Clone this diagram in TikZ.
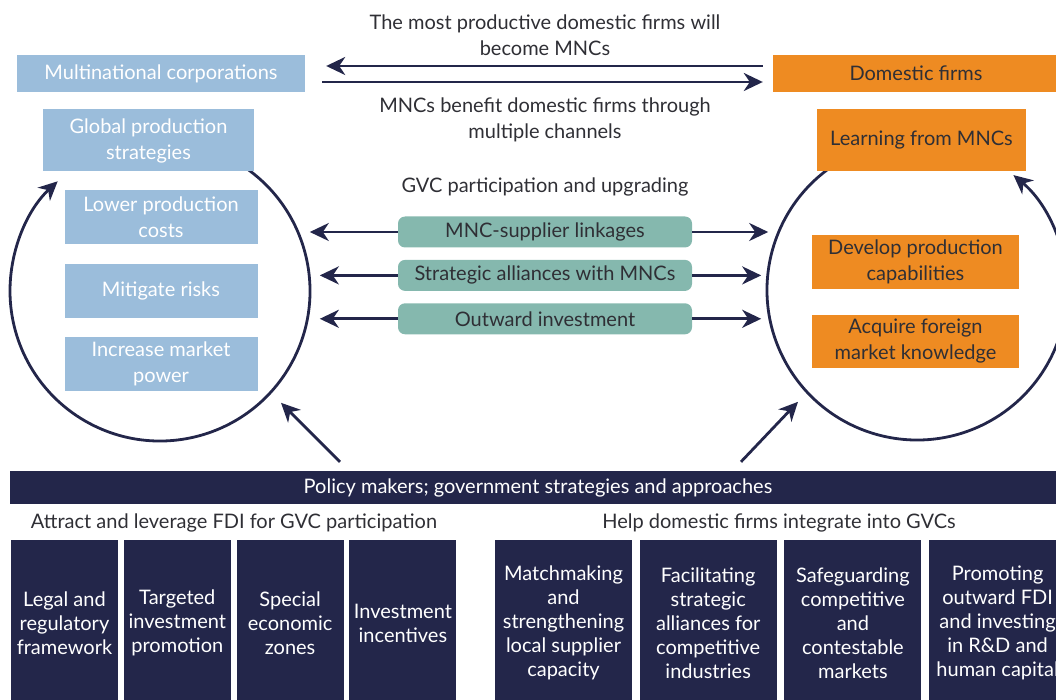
\documentclass[tikz,border=0pt]{standalone}
\usepackage{fontspec}
\setmainfont{Lato}
\usetikzlibrary{arrows.meta,positioning}
\definecolor{mncblue}{HTML}{9BBDDB}
\definecolor{domorange}{HTML}{EE8B22}
\definecolor{chanteal}{HTML}{85B8AE}
\definecolor{polnavy}{HTML}{23264A}
\definecolor{txtgray}{HTML}{2F2F35}
\tikzset{
  basic/.style   = {inner sep=0pt, align=center, font=\fontsize{20}{26}\selectfont},
  mnc/.style     = {basic, fill=mncblue, text=white},
  dom/.style     = {basic, fill=domorange, text=txtgray},
  channel/.style = {basic, fill=chanteal, text=txtgray, rounded corners=7pt,
                    minimum width=294pt, minimum height=31pt},
  policy/.style  = {basic, fill=polnavy, text=white},
  caption/.style = {basic, text=txtgray},
  arr/.style     = {-{Stealth[length=19pt,width=18pt,inset=6pt]}, line width=2.8pt, draw=polnavy}
}

\begin{document}
\begin{tikzpicture}[x=1pt, y=-1pt,
  side/.style={minimum width=193pt, minimum height=54pt},
  skill/.style={minimum width=207pt, minimum height=53pt},
  measure/.style={policy, minimum height=166pt, font=\fontsize{20}{24}\selectfont}]
\clip (0,0) rectangle (1056,700);

% the two cycles, drawn first so that the boxes sit on top
\coordinate (lc) at (160,291);
\coordinate (rc) at (917,290);
\draw[arr] (lc) ++(-60:150) arc[start angle=-60, end angle=227, radius=150];
\draw[arr] (rc) ++(240:150) arc[start angle=240, end angle=-50, radius=150];

% top row
\node[mnc, minimum width=288pt, minimum height=37pt] (mnc) at (161,73.5) {Multinational corporations};
\node[dom, minimum width=286pt, minimum height=37pt] (dom) at (916,73.5) {Domestic firms};
\node[caption] (become) at (545,35) {The most productive domestic firms will\\become MNCs};
\node[caption] (benefit) at (545,120) {MNCs benefit domestic firms through\\multiple channels};

% multinational corporations
\node[mnc, minimum width=211pt, minimum height=62pt] (glob) at (148.5,140.5) {Global production\\strategies};
\node[mnc, side] (low) at (161,217) {Lower production\\costs};
\node[mnc, side, below=20pt of low] (mit) {Mitigate risks};
\node[mnc, side, below=18pt of mit] (inc) {Increase market\\power};

% domestic firms
\node[dom, minimum width=209pt, minimum height=62pt] (learn) at (921.5,140.5) {Learning from MNCs};
\node[dom, skill] (dev) at (915.5,262) {Develop production\\capabilities};
\node[dom, skill, below=26pt of dev] (acq) {Acquire foreign\\market knowledge};

% channels between them
\node[caption] (gvc) at (545,187) {GVC participation and upgrading};
\node[channel] (sup) at (545,232) {MNC-supplier linkages};
\node[channel, below=12pt of sup] (ali) {Strategic alliances with MNCs};
\node[channel, below=12pt of ali] (out) {Outward investment};

\draw[arr, shorten <=10pt, shorten >=21pt] ([yshift=7.5pt]dom.west) -- ([yshift=7.5pt]mnc.east);
\draw[arr, shorten <=17pt, shorten >=10pt] ([yshift=-8.5pt]mnc.east) -- ([yshift=-8.5pt]dom.west);

\foreach \c/\l/\r in {sup/88/76, ali/78/69, out/78/69}{
  \draw[arr] (\c.west) -- ([xshift=-\l pt]\c.west);
  \draw[arr] (\c.east) -- ([xshift=\r pt]\c.east);
}

% policy makers
\node[policy, minimum width=1056pt, minimum height=33pt] (pol) at (538,487.5)
  {Policy makers; government strategies and approaches};
\draw[arr] ([shift={(-198,-9)}]pol.north) -- ++(-59,-59);
\draw[arr] ([shift={(203,-9)}]pol.north) -- ++(57,-60);

\node[caption] (attract) at (234,523) {Attract and leverage FDI for GVC participation};
\node[caption] (help) at (779,523) {Help domestic firms integrate into GVCs};

\foreach \i/\txt in {1/{Legal and\\regulatory\\framework}, 2/{Targeted\\investment\\promotion},
                    3/{Special\\economic\\zones}, 4/{Investment\\incentives}}
  \node[measure, minimum width=107pt] (a\i) at ({64.5+112.8*(\i-1)},623) {\txt};

\foreach \i/\txt in {1/{Matchmaking\\and\\strengthening\\local supplier\\capacity},
                    2/{Facilitating\\strategic\\alliances for\\competitive\\industries},
                    3/{Safeguarding\\competitive\\and\\contestable\\markets},
                    4/{Promoting\\outward FDI\\and investing\\in R\&D and\\human capital}}
  \node[measure, minimum width=137pt] (h\i) at ({563.5+144.7*(\i-1)},623) {\txt};
\end{tikzpicture}
\end{document}
